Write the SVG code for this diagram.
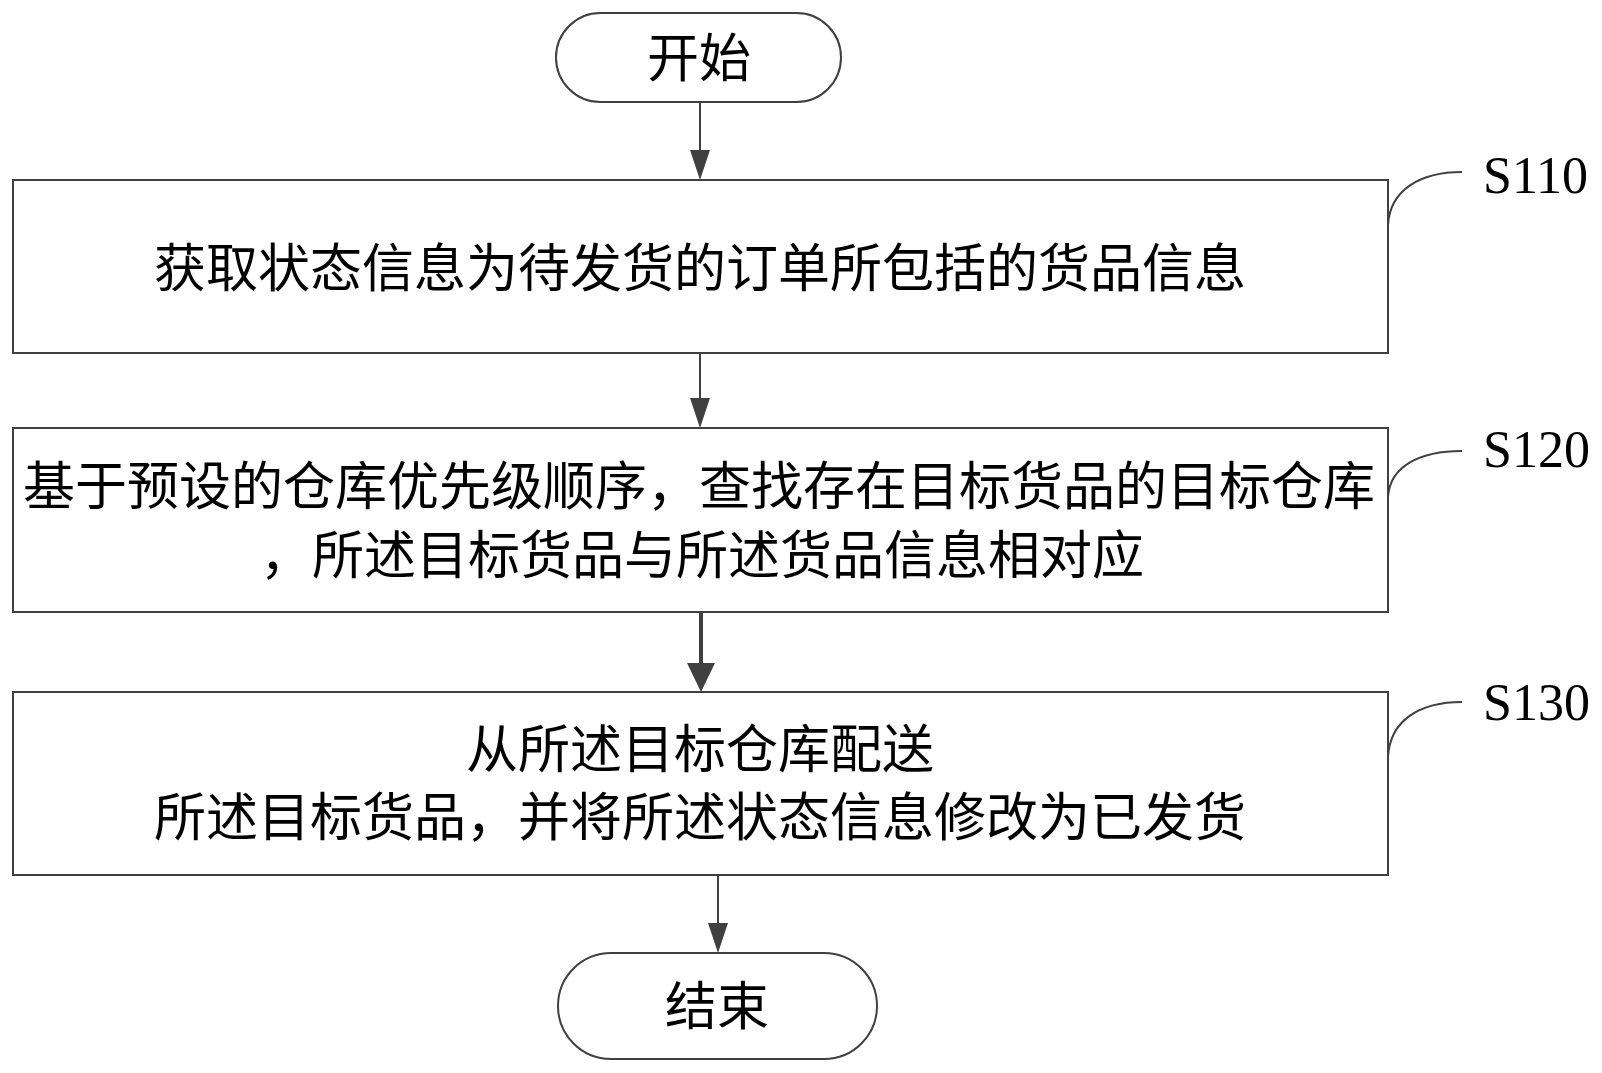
<svg xmlns="http://www.w3.org/2000/svg" width="1602" height="1073" viewBox="0 0 1602 1073">
<style>
.box{fill:#fff;stroke:#404040;stroke-width:2}
.t{font-family:"Noto Sans CJK SC","Noto Sans",sans-serif;font-size:52px;fill:#000;text-anchor:middle}
.lbl{font-family:"Liberation Serif","Times New Roman",serif;font-size:52px;fill:#000}
.ln{stroke:#404040;stroke-width:2;fill:none}
.hd{fill:#404040}
</style>
<rect width="1602" height="1073" fill="#fff"/>
<g id="start">
<rect class="box" x="556" y="13" width="285" height="89" rx="44.5"/>
<text class="t" x="699" y="77">开始</text>
</g>
<g id="s110">
<rect class="box" x="13" y="180" width="1375" height="173"/>
<text class="t" x="700" y="287">获取状态信息为待发货的订单所包括的货品信息</text>
<path class="ln" d="M1388,225 C1390,190 1420,172 1462,172"/>
<text class="lbl" x="1483" y="193">S110</text>
</g>
<g id="s120">
<rect class="box" x="13" y="428" width="1375" height="184"/>
<text class="t" x="699" y="505">基于预设的仓库优先级顺序，查找存在目标货品的目标仓库</text>
<text class="t" x="702" y="574">，所述目标货品与所述货品信息相对应</text>
<path class="ln" d="M1388,497 C1390,466 1420,451 1462,451"/>
<text class="lbl" x="1483" y="467">S120</text>
</g>
<g id="s130">
<rect class="box" x="13" y="692" width="1375" height="183"/>
<text class="t" x="700" y="768">从所述目标仓库配送</text>
<text class="t" x="700" y="836">所述目标货品，并将所述状态信息修改为已发货</text>
<path class="ln" d="M1388,757 C1390,720 1420,702 1462,702"/>
<text class="lbl" x="1483" y="720">S130</text>
</g>
<g id="end">
<rect class="box" x="558" y="953" width="319" height="106" rx="53"/>
<text class="t" x="717" y="1025">结束</text>
</g>
<g id="connectors">
<line class="ln" x1="700" y1="102" x2="700" y2="152"/>
<polygon class="hd" points="690,150 710,150 700,180"/>
<line class="ln" x1="700" y1="353" x2="700" y2="400"/>
<polygon class="hd" points="690,398 710,398 700,428"/>
<line class="ln" x1="701" y1="612" x2="701" y2="665" style="stroke-width:4"/>
<polygon class="hd" points="687,663 715,663 701,692"/>
<line class="ln" x1="718" y1="875" x2="718" y2="925"/>
<polygon class="hd" points="708,923 728,923 718,953"/>
</g>
</svg>
